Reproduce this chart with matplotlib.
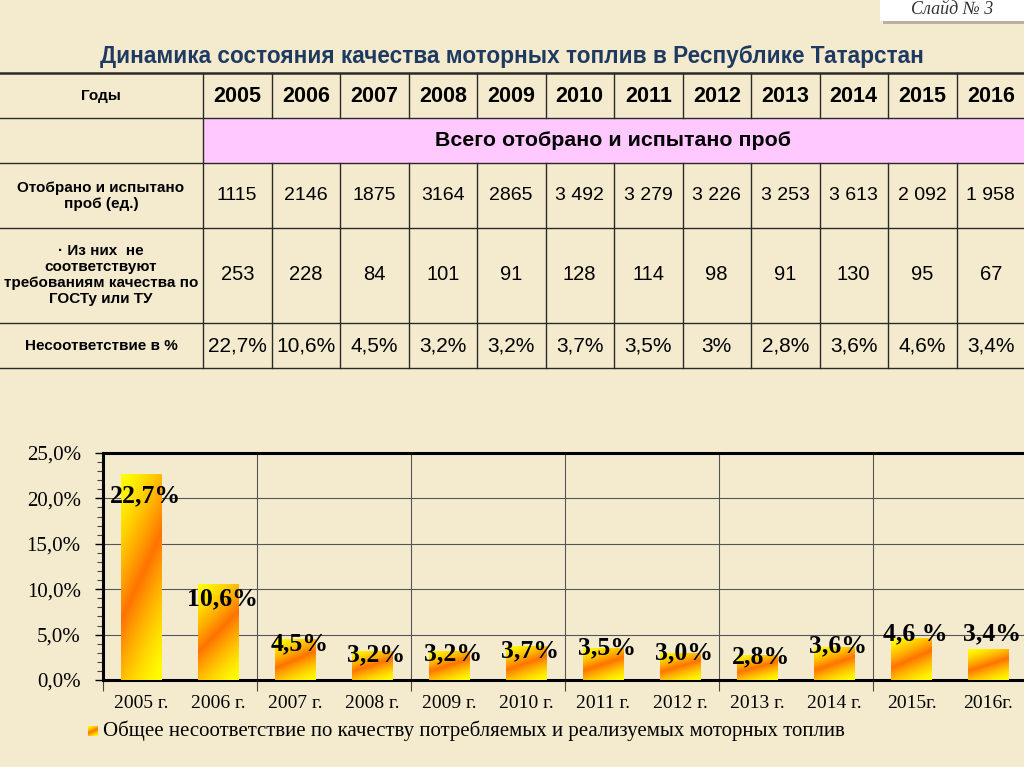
import matplotlib
matplotlib.use('Agg')
import matplotlib.pyplot as plt
import matplotlib.ticker as mtick
import numpy as np

years = ['2005', '2006', '2007', '2008', '2009', '2010', '2011', '2012', '2013', '2014', '2015', '2016']
tested = ['1115', '2146', '1875', '3164', '2865', '3 492', '3 279', '3 226', '3 253', '3 613', '2 092', '1 958']
failed = ['253', '228', '84', '101', '91', '128', '114', '98', '91', '130', '95', '67']
pct_text = ['22,7%', '10,6%', '4,5%', '3,2%', '3,2%', '3,7%', '3,5%', '3%', '2,8%', '3,6%', '4,6%', '3,4%']

bar_labels = ['2005 г.', '2006 г.', '2007 г.', '2008 г.', '2009 г.', '2010 г.', '2011 г.', '2012 г.',
              '2013 г.', '2014 г.', '2015г.', '2016г.']
pct = [22.7, 10.6, 4.5, 3.2, 3.2, 3.7, 3.5, 3.0, 2.8, 3.6, 4.6, 3.4]
val_labels = ['22,7%', '10,6%', '4,5%', '3,2%', '3,2%', '3,7%', '3,5%', '3,0%', '2,8%', '3,6%', '4,6 %', '3,4%']
# vertical shift of the value labels (in % units) relative to bar top
label_dy = [-2.4, -1.7, -0.5, -0.4, -0.3, -0.5, 0.0, 0.0, -0.2, 0.2, 0.5, 1.7]

title = 'Динамика состояния качества моторных топлив в Республике Татарстан'
legend_text = 'Общее несоответствие по качеству потребляемых и реализуемых моторных топлив'

BG = '#f4ebcf'
YELLOW = np.array([1.0, 1.0, 0.0])
ORANGE = np.array([1.0, 0.45, 0.0])


def gradient(n=80):
    X, Y = np.meshgrid(np.linspace(0, 1, n), np.linspace(0, 1, n))
    # row 0 is the top of the bar
    u = 0.3 * X + 0.7 * Y
    t = np.clip(1 - np.abs(2 * u - 1), 0, 1) ** 1.4
    return YELLOW * (1 - t[..., None]) + ORANGE * t[..., None]


fig = plt.figure(figsize=(10.24, 7.67), dpi=100)
fig.patch.set_facecolor(BG)

# ---- background axes in pixel coordinates: title, table, slide box ----
bg = fig.add_axes([0, 0, 1, 1])
bg.set_xlim(0, 1024)
bg.set_ylim(767, 0)
bg.axis('off')

bg.add_patch(plt.Rectangle((883, 2), 145, 22, facecolor='#b8b0a0', edgecolor='none'))
bg.add_patch(plt.Rectangle((880, -2), 146, 23, facecolor='white', edgecolor='none'))
bg.text(952, 9, 'Слайд № 3', ha='center', va='center', fontsize=13, style='italic',
        family='Liberation Serif', color='#333333')

bg.text(512, 56, title, ha='center', va='center', fontsize=16.3, fontweight='bold',
        family='Liberation Sans', color='#1f3a60')

row_y = [73, 118, 163, 228, 323, 368]
col_x = np.linspace(203, 1025, 13)
lc = '#2a2a2a'

bg.add_patch(plt.Rectangle((203, 118), 1025 - 203, 45, facecolor='#ffc8ff', edgecolor='none'))
for i, y in enumerate(row_y):
    bg.plot([0, 1024], [y, y], color=lc, lw=1.8 if i == 0 else 1.0)
for i, x in enumerate(col_x):
    if i == 0:
        bg.plot([x, x], [73, 368], color=lc, lw=1.0)
    else:
        bg.plot([x, x], [73, 118], color=lc, lw=1.0)
        bg.plot([x, x], [163, 368], color=lc, lw=1.0)

centers = (col_x[:-1] + col_x[1:]) / 2
lab_kw = dict(ha='center', va='center', fontsize=11, fontweight='bold', family='Liberation Sans',
              linespacing=1.2)
bg.text(101, 96, 'Годы', **lab_kw)
bg.text(101, 196, 'Отобрано и испытано\nпроб (ед.)', **lab_kw)
bg.text(101, 275, '· Из них  не\nсоответствуют\nтребованиям качества по\nГОСТу или ТУ', **lab_kw)
bg.text(101, 346, 'Несоответствие в %', **lab_kw)
bg.text(613, 141, 'Всего отобрано и испытано проб', ha='center', va='center', fontsize=15.4,
        fontweight='bold', family='Liberation Sans')

for cx, yr, a, b, p in zip(centers, years, tested, failed, pct_text):
    bg.text(cx, 96, yr, ha='center', va='center', fontsize=15.5, fontweight='bold', family='Liberation Sans')
    bg.text(cx, 196, a, ha='center', va='center', fontsize=14, family='Liberation Sans')
    bg.text(cx, 275, b, ha='center', va='center', fontsize=14.5, family='Liberation Sans')
    bg.text(cx, 346, p, ha='center', va='center', fontsize=15, family='Liberation Sans')

# legend marker and text
bg.imshow(gradient(), extent=[88, 98, 736, 726], aspect='auto', zorder=3)
bg.text(103, 731, legend_text, ha='left', va='center', fontsize=15, family='Liberation Serif')
bg.set_xlim(0, 1024)
bg.set_ylim(767, 0)

# ---- bar chart ----
left, right, top, bottom = 103, 1027, 453, 680
ax = fig.add_axes([left / 1024, 1 - bottom / 767, (right - left) / 1024, (bottom - top) / 767])
ax.set_facecolor('none')
x = np.arange(len(pct))
bars = ax.bar(x, pct, width=0.53, facecolor='none', edgecolor='none', zorder=3)
grad = gradient()
for b in bars:
    bx, by, bw, bh = b.get_x(), b.get_y(), b.get_width(), b.get_height()
    im = ax.imshow(grad, extent=[bx, bx + bw, by, by + bh], aspect='auto', zorder=3, origin='upper')
    im.set_clip_path(b)

for xi, v, lab, dy in zip(x, pct, val_labels, label_dy):
    ax.text(xi + 0.05, v + dy, lab, ha='center', va='center', fontsize=18.5, fontweight='bold',
            family='Liberation Serif', zorder=5)

ax.set_xlim(-0.5, 11.5)
ax.set_ylim(0, 25)
ax.yaxis.set_major_locator(mtick.MultipleLocator(5))
ax.yaxis.set_minor_locator(mtick.MultipleLocator(1))
ax.yaxis.set_major_formatter(mtick.FuncFormatter(lambda v, _: ('%.1f%%' % v).replace('.', ',')))
ax.set_xticks(x)
ax.set_xticklabels(bar_labels, family='Liberation Serif', fontsize=14)
ax.set_xticks(np.arange(-0.5, 12, 2), minor=True)
ax.tick_params(axis='x', which='major', length=0, pad=11)
ax.tick_params(axis='x', which='minor', length=8, width=0.8, color='#444444')
ax.tick_params(axis='y', which='major', length=6, width=1.0, pad=10)
ax.tick_params(axis='y', which='minor', length=4, width=0.8, color='#444444')
for t in ax.get_yticklabels():
    t.set_family('Liberation Serif')
    t.set_fontsize(15)
ax.grid(True, axis='y', which='major', color='#555555', lw=0.8, zorder=1)
ax.grid(True, axis='x', which='minor', color='#555555', lw=0.8, zorder=1)
for s in ['top', 'left', 'bottom']:
    ax.spines[s].set_linewidth(2.2)
    ax.spines[s].set_color('black')
ax.spines['right'].set_visible(False)

fig.savefig('out.png', dpi=100, facecolor=BG)
